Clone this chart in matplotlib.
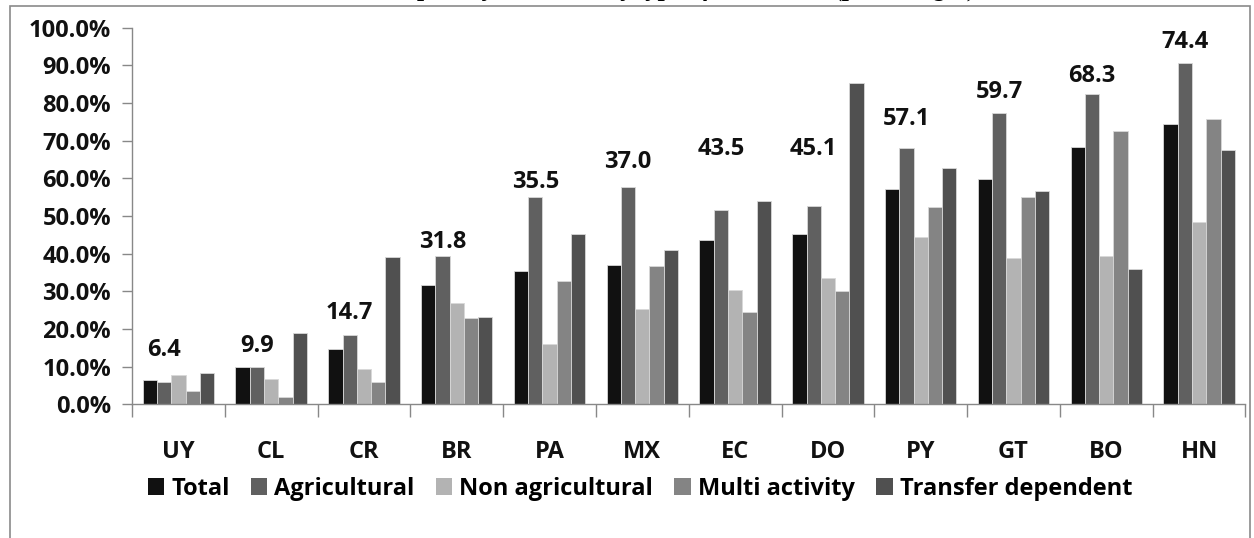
import matplotlib.pyplot as plt
import matplotlib.patches as mpatches
import numpy as np

countries = ['UY', 'CL', 'CR', 'BR', 'PA', 'MX', 'EC', 'DO', 'PY', 'GT', 'BO', 'HN']
series_names = ['Total', 'Agricultural', 'Non agricultural', 'Multi activity', 'Transfer dependent']

total = [6.4, 9.9, 14.7, 31.8, 35.5, 37.0, 43.5, 45.1, 57.1, 59.7, 68.3, 74.4]
agricultural = [6.0, 9.8, 18.5, 39.3, 54.9, 57.8, 51.5, 52.6, 68.1, 77.3, 82.3, 90.7]
non_agricultural = [7.7, 6.7, 9.3, 26.8, 15.9, 25.2, 30.4, 33.5, 44.4, 38.8, 39.4, 48.3]
multi_activity = [3.4, 2.0, 6.0, 22.8, 32.7, 36.8, 24.5, 30.2, 52.3, 54.9, 72.5, 75.8]
transfer_dependent = [8.3, 18.9, 39.0, 23.2, 45.3, 41.0, 53.9, 85.2, 62.8, 56.5, 35.8, 67.6]

# heights where the total-value labels sit
label_y = [14.4, 15.5, 24.2, 43.2, 59.1, 64.3, 67.8, 67.8, 75.7, 82.8, 87.2, 96.1]

colors = ['#111111', '#606060', '#b3b3b3', '#848484', '#505050']
values = [total, agricultural, non_agricultural, multi_activity, transfer_dependent]

font = 'Open Sans'
fs = 17

fig = plt.figure(figsize=(12.54, 5.38), dpi=100)
ax = fig.add_axes([132 / 1254, 1 - 404.3 / 538, 1113.5 / 1254, 376.7 / 538])

x = np.arange(len(countries))
width = 0.154
for i, (name, vals, c) in enumerate(zip(series_names, values, colors)):
    ax.bar(x + (i - 2) * width, vals, width, color=c, edgecolor='#d8d8d8',
           linewidth=0.6, label=name)

for xi, t, ly in zip(x, total, label_y):
    ax.text(xi - width, ly, f'{t:.1f}', ha='center', va='center',
            fontsize=fs, fontweight='bold', family=font, color='#111111')

ax.set_xlim(-0.5, len(countries) - 0.5)
ax.set_ylim(0, 100)
ax.set_yticks(np.arange(0, 101, 10))
ax.set_yticklabels([f'{v:.1f}%' for v in np.arange(0, 101, 10)])
ax.set_xticks(x)
ax.set_xticklabels(countries)
ax.set_xticks(np.arange(-0.5, len(countries), 1), minor=True)
ax.tick_params(axis='x', which='major', length=0, pad=26)
ax.tick_params(axis='x', which='minor', length=9, color='#888888', width=1)
ax.tick_params(axis='y', length=7, color='#888888', width=1, pad=8)
for lbl in ax.get_xticklabels() + ax.get_yticklabels():
    lbl.set_fontsize(fs)
    lbl.set_fontweight('bold')
    lbl.set_family(font)
    lbl.set_color('#111111')

for s in ['top', 'right']:
    ax.spines[s].set_visible(False)
for s in ['left', 'bottom']:
    ax.spines[s].set_color('#888888')
    ax.spines[s].set_linewidth(1)

leg = fig.legend(loc='center', bbox_to_anchor=(640 / 1254, 1 - 489 / 538), ncol=5,
                 frameon=False, handlelength=0.7, handleheight=0.7,
                 handletextpad=0.3, columnspacing=0.9,
                 prop={'family': font, 'weight': 'bold', 'size': fs})
for h in leg.legend_handles:
    h.set_edgecolor('none')

# outer chart frame
fig.patches.append(mpatches.Rectangle((10 / 1254, -0.1), 1240 / 1254, 1.1 - 6.5 / 538,
                                      transform=fig.transFigure, fill=False,
                                      edgecolor='#8a8a8a', linewidth=1.2))

# title sits above the cropped top edge, as in the source image
fig.text(665 / 1254, 1 + 4 / 538, 'Rural poverty incidence by type of household (percentages)',
         ha='center', va='baseline', fontsize=18.5, fontweight='bold', style='italic',
         family='Liberation Serif')

fig.savefig('out.png', dpi=100)
